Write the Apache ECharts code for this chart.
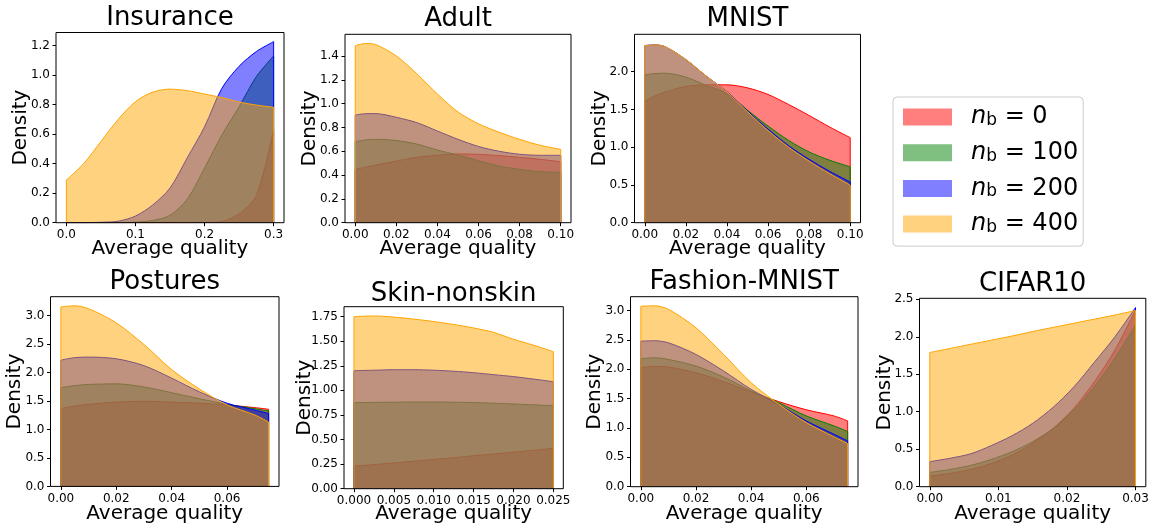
<!DOCTYPE html>
<html><head><meta charset="utf-8">
<script src="https://cdn.jsdelivr.net/npm/echarts@6/dist/echarts.min.js"></script>
<style>html,body{margin:0;padding:0;background:#fff}#c{width:1150px;height:525px}</style>
</head><body><div id="c"></div>
<script>
// ---------------- DATA ----------------
const seriesNames = ['n_b = 0', 'n_b = 100', 'n_b = 200', 'n_b = 400'];

const insuranceX    = [0, 0.025, 0.05, 0.075, 0.1, 0.125, 0.15, 0.175, 0.2, 0.225, 0.25, 0.275, 0.3];
const insuranceN0   = [0, 0, 0, 0, 0, 0, 0, 0, 0.001, 0.008, 0.06, 0.185, 0.63];
const insuranceN100 = [0, 0, 0, 0.001, 0.004, 0.015, 0.05, 0.16, 0.37, 0.594, 0.786, 0.99, 1.13];
const insuranceN200 = [0, 0.0005, 0.003, 0.01, 0.045, 0.12, 0.235, 0.44, 0.65, 0.91, 1.06, 1.16, 1.227];
const insuranceN400 = [0.289, 0.40, 0.55, 0.70, 0.82, 0.885, 0.905, 0.895, 0.872, 0.848, 0.818, 0.797, 0.782];
const insuranceXTicks = [0, 0.1, 0.2, 0.3];
const insuranceYTicks = [0, 0.2, 0.4, 0.6, 0.8, 1.0, 1.2];

const adultX    = [0, 0.005, 0.01, 0.02, 0.03, 0.04, 0.05, 0.06, 0.07, 0.08, 0.09, 0.1];
const adultN0   = [0.448, 0.466, 0.484, 0.518, 0.549, 0.566, 0.577, 0.574, 0.563, 0.549, 0.532, 0.512];
const adultN100 = [0.68, 0.695, 0.70, 0.69, 0.66, 0.61, 0.568, 0.52, 0.476, 0.448, 0.428, 0.423];
const adultN200 = [0.905, 0.915, 0.916, 0.885, 0.84, 0.77, 0.70, 0.64, 0.60, 0.575, 0.566, 0.566];
const adultN400 = [1.487, 1.505, 1.495, 1.40, 1.25, 1.08, 0.93, 0.83, 0.76, 0.70, 0.65, 0.616];
const adultXTicks = [0, 0.02, 0.04, 0.06, 0.08, 0.1];
const adultYTicks = [0, 0.2, 0.4, 0.6, 0.8, 1.0, 1.2, 1.4];

const mnistX    = [0, 0.005, 0.01, 0.02, 0.03, 0.04, 0.05, 0.06, 0.07, 0.08, 0.09, 0.1];
const mnistN0   = [1.606, 1.68, 1.73, 1.805, 1.826, 1.826, 1.786, 1.698, 1.566, 1.42, 1.267, 1.126];
const mnistN100 = [1.958, 1.975, 1.98, 1.928, 1.817, 1.71, 1.49, 1.28, 1.09, 0.937, 0.827, 0.74];
const mnistN200 = [2.346, 2.355, 2.33, 2.16, 1.94, 1.735, 1.48, 1.24, 1.02, 0.84, 0.68, 0.54];
const mnistN400 = [2.346, 2.355, 2.33, 2.16, 1.94, 1.73, 1.47, 1.22, 1.0, 0.815, 0.65, 0.497];
const mnistXTicks = [0, 0.02, 0.04, 0.06, 0.08, 0.1];
const mnistYTicks = [0, 0.5, 1.0, 1.5, 2.0];

const posturesX    = [0, 0.005, 0.01, 0.02, 0.03, 0.04, 0.05, 0.06, 0.07, 0.075];
const posturesN0   = [1.365, 1.41, 1.44, 1.48, 1.494, 1.48, 1.46, 1.43, 1.383, 1.354];
const posturesN100 = [1.733, 1.77, 1.79, 1.80, 1.745, 1.645, 1.54, 1.44, 1.365, 1.324];
const posturesN200 = [2.217, 2.26, 2.27, 2.24, 2.12, 1.90, 1.66, 1.46, 1.34, 1.28];
const posturesN400 = [3.15, 3.17, 3.12, 2.87, 2.49, 2.05, 1.71, 1.43, 1.254, 1.13];
const posturesXTicks = [0, 0.02, 0.04, 0.06];
const posturesYTicks = [0, 0.5, 1.0, 1.5, 2.0, 2.5, 3.0];

const skinX    = [0, 0.0025, 0.005, 0.0075, 0.01, 0.0125, 0.015, 0.0175, 0.02, 0.0225, 0.025];
const skinN0   = [0.23, 0.245, 0.262, 0.28, 0.298, 0.316, 0.335, 0.353, 0.372, 0.391, 0.41];
const skinN100 = [0.875, 0.878, 0.88, 0.882, 0.882, 0.88, 0.876, 0.87, 0.862, 0.853, 0.844];
const skinN200 = [1.20, 1.205, 1.21, 1.21, 1.205, 1.195, 1.18, 1.16, 1.14, 1.115, 1.088];
const skinN400 = [1.75, 1.757, 1.745, 1.725, 1.70, 1.67, 1.635, 1.59, 1.52, 1.46, 1.394];
const skinXTicks = [0, 0.005, 0.01, 0.015, 0.02, 0.025];
const skinYTicks = [0, 0.25, 0.5, 0.75, 1.0, 1.25, 1.5, 1.75];

const fashionX    = [0, 0.005, 0.01, 0.02, 0.03, 0.04, 0.05, 0.06, 0.07, 0.075];
const fashionN0   = [2.026, 2.05, 2.037, 1.94, 1.79, 1.613, 1.449, 1.31, 1.205, 1.12];
const fashionN100 = [2.18, 2.195, 2.167, 2.054, 1.868, 1.63, 1.43, 1.205, 1.036, 0.94];
const fashionN200 = [2.479, 2.485, 2.45, 2.252, 1.97, 1.658, 1.40, 1.12, 0.894, 0.78];
const fashionN400 = [3.073, 3.08, 3.02, 2.705, 2.252, 1.771, 1.404, 1.092, 0.849, 0.736];
const fashionXTicks = [0, 0.02, 0.04, 0.06];
const fashionYTicks = [0, 0.5, 1.0, 1.5, 2.0, 2.5, 3.0];

const cifarX    = [0, 0.003, 0.006, 0.009, 0.012, 0.015, 0.018, 0.021, 0.024, 0.027, 0.03];
const cifarN0   = [0.142, 0.178, 0.231, 0.311, 0.423, 0.578, 0.778, 1.045, 1.40, 1.823, 2.358];
const cifarN100 = [0.19, 0.231, 0.285, 0.365, 0.467, 0.60, 0.778, 1.023, 1.335, 1.713, 2.157];
const cifarN200 = [0.334, 0.38, 0.44, 0.55, 0.68, 0.845, 1.06, 1.33, 1.66, 2.0, 2.39];
const cifarN400 = [1.79, 1.845, 1.90, 1.955, 2.01, 2.07, 2.125, 2.18, 2.235, 2.29, 2.35];
const cifarXTicks = [0, 0.01, 0.02, 0.03];
const cifarYTicks = [0, 0.5, 1.0, 1.5, 2.0, 2.5];

// ---------------- LAYOUT / STYLE ----------------
const FONT = '"DejaVu Sans", sans-serif';
const colors = ['#ff0000', '#008000', '#0000ff', '#ffa500'];
const fillAlpha = 0.5;
function rgba(hex, a) {
  const n = parseInt(hex.slice(1), 16);
  return `rgba(${(n >> 16) & 255},${(n >> 8) & 255},${n & 255},${a})`;
}
const fills = colors.map(c => rgba(c, fillAlpha));

const panels = [
  {title: 'Insurance', x: insuranceX, ys: [insuranceN0, insuranceN100, insuranceN200, insuranceN400],
   xt: insuranceXTicks, yt: insuranceYTicks, xDec: 1, yDec: 1,
   box: [56, 32.5, 228, 190.2], xlim: [-0.015, 0.315], ylim: [0, 1.289],
   titleBase: 27.3, densCap: 12.7, labelBase: 255.3},
  {title: 'Adult', x: adultX, ys: [adultN0, adultN100, adultN200, adultN400],
   xt: adultXTicks, yt: adultYTicks, xDec: 2, yDec: 1,
   box: [345, 34.3, 226, 188.4], xlim: [-0.005, 0.105], ylim: [0, 1.582],
   titleBase: 28.3, densCap: 301.7, labelBase: 255.3},
  {title: 'MNIST', x: mnistX, ys: [mnistN0, mnistN100, mnistN200, mnistN400],
   xt: mnistXTicks, yt: mnistYTicks, xDec: 2, yDec: 1,
   box: [634.5, 34.3, 226, 188.4], xlim: [-0.005, 0.105], ylim: [0, 2.495],
   titleBase: 28.3, densCap: 591.7, labelBase: 255.3},
  {title: 'Postures', x: posturesX, ys: [posturesN0, posturesN100, posturesN200, posturesN400],
   xt: posturesXTicks, yt: posturesYTicks, xDec: 2, yDec: 1,
   box: [50.5, 296.7, 228.5, 189.7], xlim: [-0.00375, 0.07875], ylim: [0, 3.33],
   titleBase: 291.7, densCap: 7.3, labelBase: 521.1},
  {title: 'Skin-nonskin', x: skinX, ys: [skinN0, skinN100, skinN200, skinN400],
   xt: skinXTicks, yt: skinYTicks, xDec: 3, yDec: 2,
   box: [344, 306.7, 219.3, 182], xlim: [-0.00125, 0.02625], ylim: [0, 1.851],
   titleBase: 303.3, densCap: 296.7, labelBase: 521.1},
  {title: 'Fashion-MNIST', x: fashionX, ys: [fashionN0, fashionN100, fashionN200, fashionN400],
   xt: fashionXTicks, yt: fashionYTicks, xDec: 2, yDec: 1,
   box: [630.5, 296.7, 227.5, 190], xlim: [-0.00375, 0.07875], ylim: [0, 3.235],
   titleBase: 291.7, densCap: 586.7, labelBase: 521.1},
  {title: 'CIFAR10', x: cifarX, ys: [cifarN0, cifarN100, cifarN200, cifarN400],
   xt: cifarXTicks, yt: cifarYTicks, xDec: 2, yDec: 1,
   box: [919.5, 298.3, 226.3, 188.4], xlim: [-0.0015, 0.0315], ylim: [0, 2.513],
   titleBase: 293.3, densCap: 876.7, labelBase: 521.1}
];

const grids = [], xAxes = [], yAxes = [], series = [], graphics = [];
const TICK_FS = 12;

panels.forEach((p, i) => {
  const [l, t, w, h] = p.box;
  grids.push({left: l, top: t, width: w, height: h, show: true, borderColor: '#000', borderWidth: 1,
    backgroundColor: 'rgba(0,0,0,0)', z: 20, outerBoundsMode: 'none', containLabel: false});
  const tickStyle = {show: true, inside: false, length: 3.5, lineStyle: {color: '#000', width: 1}};
  xAxes.push({type: 'value', gridIndex: i, min: p.xlim[0], max: p.xlim[1], position: 'bottom', z: 20,
    axisLine: {show: false, onZero: false}, splitLine: {show: false},
    axisTick: Object.assign({customValues: p.xt}, tickStyle),
    axisLabel: {customValues: p.xt, formatter: v => Number(v).toFixed(p.xDec), color: '#000',
      fontSize: TICK_FS, fontFamily: FONT, margin: 6, hideOverlap: false}});
  yAxes.push({type: 'value', gridIndex: i, min: p.ylim[0], max: p.ylim[1], position: 'left', z: 20,
    axisLine: {show: false, onZero: false}, splitLine: {show: false},
    axisTick: Object.assign({customValues: p.yt}, tickStyle),
    axisLabel: {customValues: p.yt, formatter: v => Number(v).toFixed(p.yDec), color: '#000',
      fontSize: TICK_FS, fontFamily: FONT, margin: 6, hideOverlap: false}});

  p.ys.forEach((ys, k) => {
    const zz = 2 + k;
    series.push({type: 'line', name: seriesNames[k], xAxisIndex: i, yAxisIndex: i, z: zz,
      data: p.x.map((xv, j) => [xv, ys[j]]), smooth: 0.3, symbol: 'none', silent: true,
      lineStyle: {color: colors[k], width: 1}, itemStyle: {color: colors[k]},
      areaStyle: {color: fills[k], opacity: 1}});
    const n = p.x.length - 1;
    series.push({type: 'line', xAxisIndex: i, yAxisIndex: i, z: zz, symbol: 'none', silent: true,
      connectNulls: false, lineStyle: {color: colors[k], width: 1},
      data: [[p.x[0], 0], [p.x[0], ys[0]], [p.x[0], '-'], [p.x[n], ys[n]], [p.x[n], 0]]});
  });

  const cx = l + w / 2, cy = t + h / 2;
  graphics.push({type: 'text', x: cx, y: p.titleBase - 0.346 * 26, z: 30,
    style: {text: p.title, fontSize: 26, fontFamily: FONT, fill: '#000', align: 'center', verticalAlign: 'middle'}});
  graphics.push({type: 'text', x: cx, y: p.labelBase - 0.346 * 20, z: 30,
    style: {text: 'Average quality', fontSize: 20, fontFamily: FONT, fill: '#000', align: 'center', verticalAlign: 'middle'}});
  graphics.push({type: 'text', x: p.densCap + 14.6 - 0.346 * 20, y: cy, rotation: Math.PI / 2, z: 30,
    style: {text: 'Density', fontSize: 20, fontFamily: FONT, fill: '#000', align: 'center', verticalAlign: 'middle'}});
});

const chart = echarts.init(document.getElementById('c'), null, {renderer: 'canvas'});
chart.setOption({
  animation: false,
  backgroundColor: '#fff',
  grid: grids, xAxis: xAxes, yAxis: yAxes, series: series,
  graphic: {elements: graphics},
  legend: {
    orient: 'vertical', left: 893, top: 97, padding: [8, 5, 10, 10],
    itemWidth: 49, itemHeight: 17, itemGap: 11.7, icon: 'rect', selectedMode: false,
    borderColor: '#cccccc', borderWidth: 1, borderRadius: 4, backgroundColor: 'rgba(255,255,255,0.8)',
    data: seriesNames.map((n, k) => ({name: n, icon: 'rect', itemStyle: {color: fills[k], borderWidth: 0}})),
    formatter: name => `{n|n}{b|b}{t| = ${name.split('= ')[1]}}`,
    textStyle: {fontSize: 24, fontFamily: FONT, color: '#000',
      rich: {
        n: {fontSize: 24, fontStyle: 'italic', fontFamily: FONT, lineHeight: 24, padding: [0, 0, 0, 14]},
        b: {fontSize: 17, fontFamily: FONT, lineHeight: 10, verticalAlign: 'bottom'},
        t: {fontSize: 24, fontFamily: FONT, lineHeight: 24}
      }}
  }
});
</script></body></html>
